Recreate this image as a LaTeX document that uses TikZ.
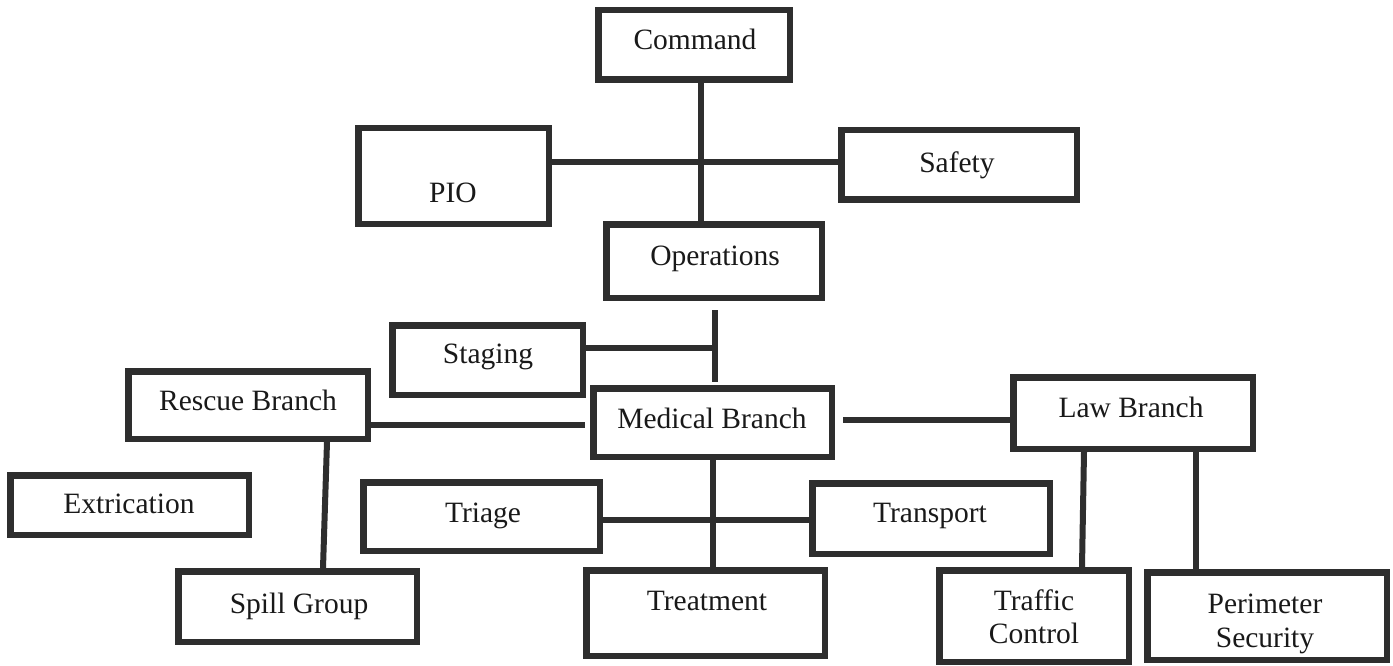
\documentclass[tikz,border=0pt]{standalone}
\usepackage{fontspec}
\setmainfont{Liberation Serif}
\usetikzlibrary{calc}
\begin{document}
\begin{tikzpicture}[x=1pt,y=-1pt,
  box/.style={draw=black!82, line width=6.5pt, rectangle, inner sep=0pt},
  conn/.style={draw=black!82, line width=6pt},
  lbl/.style={anchor=base, inner sep=0pt, font=\fontsize{29.5}{34}\selectfont, text=black!90}]
\useasboundingbox[fill=white] (0,0) rectangle (1393,666);
% boxes
\node[box, minimum width=191.5pt, minimum height=69.5pt] (cmd) at (694,45) {};
\node[box, minimum width=190.5pt, minimum height=95.5pt] (pio) at (453.5,176) {};
\node[box, minimum width=235.5pt, minimum height=69.5pt] (safety) at (959,165) {};
\node[box, minimum width=215.5pt, minimum height=73.5pt] (ops) at (714,261) {};
\node[box, minimum width=190.5pt, minimum height=69.5pt] (staging) at (487.5,360) {};
\node[box, minimum width=238.5pt, minimum height=68.5pt] (med) at (712.5,422.5) {};
\node[box, minimum width=239.5pt, minimum height=67.5pt] (rescue) at (248,405) {};
\node[box, minimum width=239.5pt, minimum height=71.5pt] (law) at (1133,413) {};
\node[box, minimum width=238.5pt, minimum height=59.5pt] (extr) at (129.5,505) {};
\node[box, minimum width=236.5pt, minimum height=68.5pt] (triage) at (481.5,516.5) {};
\node[box, minimum width=237.5pt, minimum height=70.5pt] (transport) at (931,518.5) {};
\node[box, minimum width=238.5pt, minimum height=70.5pt] (spill) at (297.5,606.5) {};
\node[box, minimum width=238.5pt, minimum height=85.5pt] (treat) at (705.5,613) {};
\node[box, minimum width=189.5pt, minimum height=91.5pt] (traffic) at (1034,616) {};
\node[box, minimum width=239.5pt, minimum height=87.5pt] (perim) at (1267,616) {};
% texts
\node[lbl] (cmd-t) at (695,50) {Command};
\node[lbl] (pio-t) at (453,202) {PIO};
\node[lbl] (safety-t) at (957,173) {Safety};
\node[lbl] (ops-t) at (715,265) {Operations};
\node[lbl] (staging-t) at (488,363) {Staging};
\node[lbl] (med-t) at (712,428) {Medical Branch};
\node[lbl] (rescue-t) at (248,410) {Rescue Branch};
\node[lbl] (law-t) at (1131,417) {Law Branch};
\node[lbl] (extr-t) at (129,513) {Extrication};
\node[lbl] (triage-t) at (483,522) {Triage};
\node[lbl] (transport-t) at (930,522) {Transport};
\node[lbl] (spill-t) at (299,613) {Spill Group};
\node[lbl] (treat-t) at (707,610) {Treatment};
\node[lbl] (traffic-t1) at (1034,610) {Traffic};
\node[lbl] (traffic-t2) at (1034,643) {Control};
\node[lbl] (perim-t1) at (1265,613) {Perimeter};
\node[lbl] (perim-t2) at (1265,647) {Security};
% connector helpers
\coordinate (xC) at (701,0);
\coordinate (yPS) at (0,162);
\coordinate (tTop) at (715,310);
\coordinate (tBot) at (715,382);
\coordinate (yS) at (0,348);
\coordinate (yRM) at (0,425);
\coordinate (yML) at (0,420);
\coordinate (xR1) at (327,0);
\coordinate (xR2) at (323,0);
\coordinate (xM) at (713,0);
\coordinate (yTT) at (0,520);
\coordinate (xL1) at (1084,0);
\coordinate (xL2) at (1082,0);
\coordinate (xP) at (1196,0);
% connectors
\draw[conn] (cmd.south -| xC) -- (ops.north -| xC);
\draw[conn] (pio.east |- yPS) -- (safety.west |- yPS);
\draw[conn] (tTop) -- (tBot);
\draw[conn] (staging.east |- yS) -- (tTop |- yS);
\draw[conn] (rescue.east |- yRM) -- ($(med.west |- yRM)+(-5,0)$);
\draw[conn] ($(med.east |- yML)+(8,0)$) -- (law.west |- yML);
\draw[conn] (rescue.south -| xR1) -- (spill.north -| xR2);
\draw[conn] (med.south -| xM) -- (treat.north -| xM);
\draw[conn] (triage.east |- yTT) -- (transport.west |- yTT);
\draw[conn] (law.south -| xL1) -- (traffic.north -| xL2);
\draw[conn] (law.south -| xP) -- (perim.north -| xP);
\end{tikzpicture}
\end{document}
